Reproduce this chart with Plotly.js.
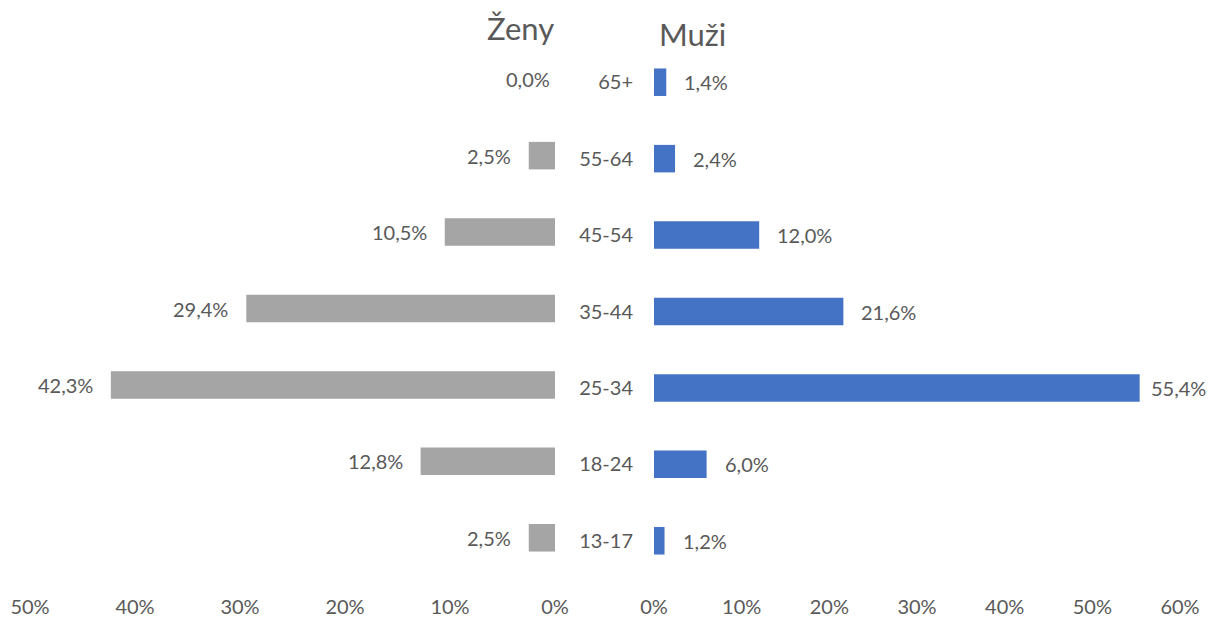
<!DOCTYPE html>
<html>
<head>
<meta charset="utf-8">
<script src="https://cdn.plot.ly/plotly-3.0.1.min.js"></script>
<style>html,body{margin:0;padding:0;background:#fff;}#chart{width:1208px;height:618px;}</style>
</head>
<body>
<div id="chart"></div>
<script>
var categories = ["13-17", "18-24", "25-34", "35-44", "45-54", "55-64", "65+"];
var zeny = [2.5, 12.8, 42.3, 29.4, 10.5, 2.5, 0.0];
var muzi = [1.2, 6.0, 55.4, 21.6, 12.0, 2.4, 1.4];
var leftTicks = [50, 40, 30, 20, 10, 0];
var rightTicks = [0, 10, 20, 30, 40, 50, 60];
var titleZeny = "Ženy";
var titleMuzi = "Muži";

var W = 1208, H = 618;
var FONT = "Lato, 'Open Sans', sans-serif";
var TXT = "#595959";
function fmt(v){ return v.toFixed(1).replace(".", ",") + "%"; }
function fy(px){ return 1 - px / H; }

var traces = [
  {type:"bar", orientation:"h", y:categories, x:zeny, xaxis:"x", yaxis:"y",
   marker:{color:"#A5A5A5"}, hoverinfo:"skip"},
  {type:"bar", orientation:"h", y:categories, x:muzi, xaxis:"x2", yaxis:"y2",
   marker:{color:"#4472C4"}, hoverinfo:"skip"}
];

var annotations = [];
categories.forEach(function(c, i){
  annotations.push({xref:"x", yref:"y", x:zeny[i], y:c, text:fmt(zeny[i]),
    showarrow:false, xanchor:"right", yanchor:"middle",
    xshift: zeny[i] === 0 ? -3 : -16, font:{family:FONT, size:20, color:TXT}});
  annotations.push({xref:"x2", yref:"y2", x:muzi[i], y:c, text:fmt(muzi[i]),
    showarrow:false, xanchor:"left", yanchor:"middle",
    xshift: muzi[i] > 50 ? 9 : 16, font:{family:FONT, size:20, color:TXT}});
});
annotations.push({xref:"paper", yref:"paper", x:556/W, y:fy(28), text:titleZeny,
  showarrow:false, xanchor:"right", yanchor:"middle", font:{family:FONT, size:31, color:TXT}});
annotations.push({xref:"paper", yref:"paper", x:657/W, y:fy(34), text:titleMuzi,
  showarrow:false, xanchor:"left", yanchor:"middle", font:{family:FONT, size:31, color:TXT}});

var layout = {
  width:W, height:H, margin:{l:0, r:0, t:0, b:0},
  paper_bgcolor:"#fff", plot_bgcolor:"rgba(0,0,0,0)",
  showlegend:false, bargap:0.64,
  font:{family:FONT, color:TXT},
  xaxis:{domain:[30/W, 555/W], range:[50, 0], tickvals:leftTicks,
    ticktext:leftTicks.map(function(v){return v+"%";}),
    anchor:"free", position:fy(579), showgrid:false, zeroline:false, showline:false,
    ticks:"", ticklabelstandoff:14, tickfont:{family:FONT, size:20, color:TXT}, fixedrange:true},
  xaxis2:{domain:[654/W, 1180/W], range:[0, 60], tickvals:rightTicks,
    ticktext:rightTicks.map(function(v){return v+"%";}),
    anchor:"free", position:fy(579), showgrid:false, zeroline:false, showline:false,
    ticks:"", ticklabelstandoff:14, tickfont:{family:FONT, size:20, color:TXT}, fixedrange:true},
  yaxis:{domain:[fy(576), fy(41)], anchor:"x", range:[-0.5, 6.5], type:"category",
    categoryorder:"array", categoryarray:categories,
    showticklabels:false, showgrid:false, zeroline:false, showline:false, ticks:"", fixedrange:true},
  yaxis2:{domain:[fy(579), fy(44)], anchor:"x2", range:[-0.5, 6.5], type:"category",
    categoryorder:"array", categoryarray:categories, side:"left",
    showgrid:false, zeroline:false, showline:false, ticks:"", ticklabelstandoff:20,
    tickfont:{family:FONT, size:20, color:TXT}, fixedrange:true},
  annotations:annotations
};

Plotly.newPlot("chart", traces, layout, {displayModeBar:false, staticPlot:true});
</script>
</body>
</html>
